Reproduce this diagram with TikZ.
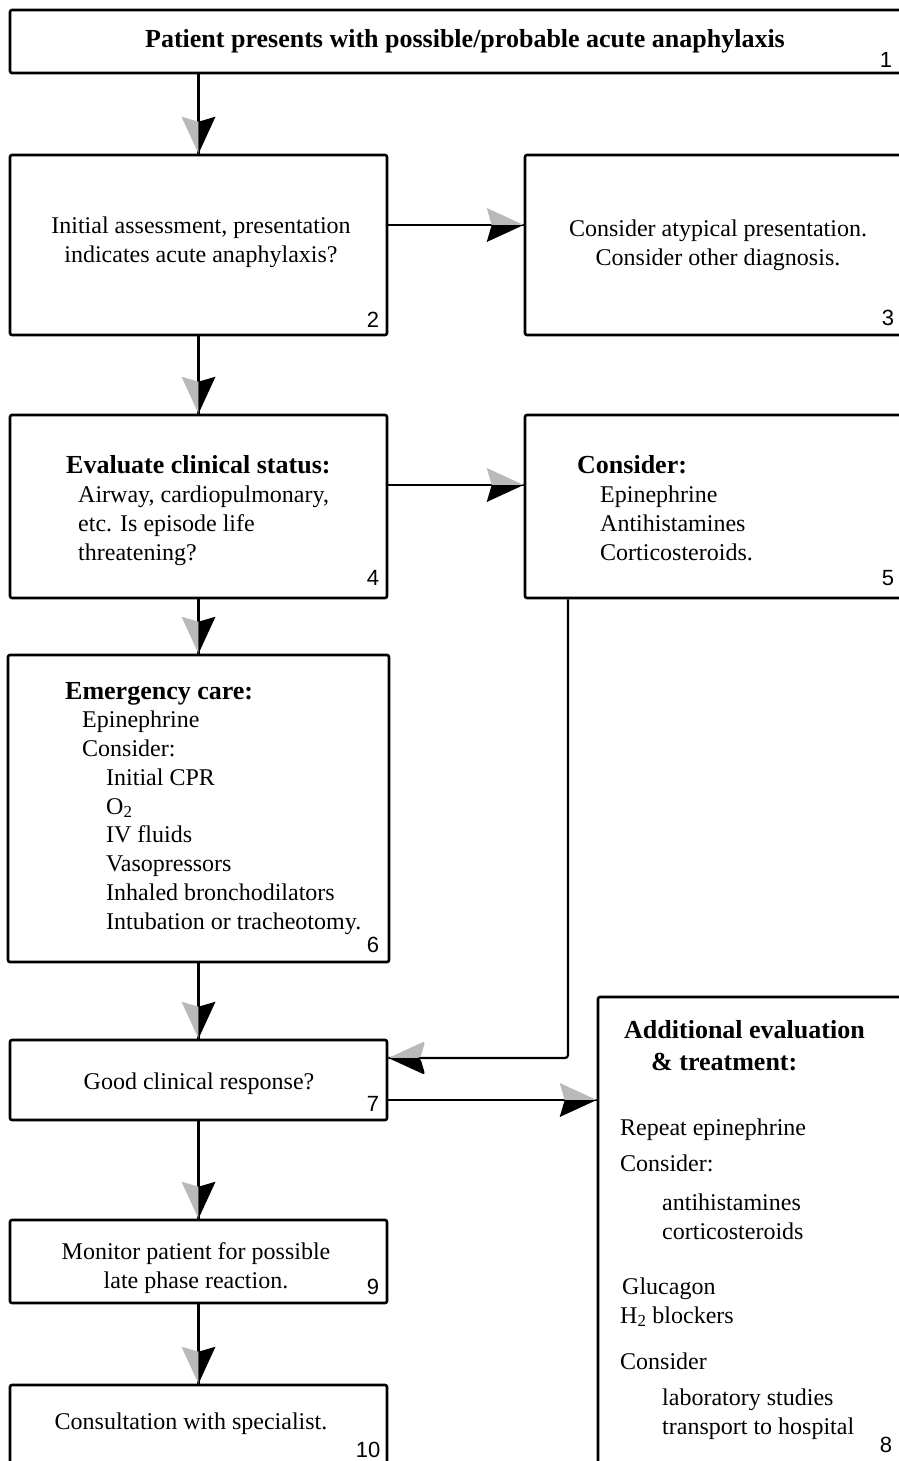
\documentclass[tikz,border=0pt]{standalone}
\usepackage{fontspec}
\setmainfont{Liberation Serif}
\newfontfamily\numfont{Liberation Sans}
\usetikzlibrary{decorations.markings}

% two-tone arrow head, #1 = side of the grey half
\newcommand\flowtip[1]{%
  \fill[gray!55] (0pt,0pt) -- (-37pt,{17pt*(#1)}) -- (-32pt,0pt) -- cycle;
  \fill[black] (0pt,0pt) -- (-37pt,{-17pt*(#1)}) -- (-32pt,0pt) -- cycle;}

\tikzset{
  box/.style={draw, line width=2.6pt, rounded corners=2pt, inner sep=0pt},
  txt/.style={inner sep=0pt, font=\fontsize{24}{29}\selectfont},
  num/.style={inner sep=0pt, font=\numfont\fontsize{22}{22}\selectfont},
  flow/.style={line width=2.2pt, postaction=decorate},
  flowdown/.style={flow, decoration={markings, mark=at position 1 with {\flowtip{-1}}}},
  flowright/.style={flow, decoration={markings, mark=at position 1 with {\flowtip{1}}}},
  flowleft/.style={flow, decoration={markings, mark=at position 1 with {\flowtip{-1}}}}
}
\newcommand\hd[1]{{\fontsize{26}{29}\selectfont\bfseries #1}}

\begin{document}
\begin{tikzpicture}[x=1pt, y=-1pt]
  \useasboundingbox (0,0) rectangle (899,1461);
  \fill[white] (0,0) rectangle (899,1461);
  \clip (0,0) rectangle (899,1461);

  % boxes
  \node[box, minimum width=900pt, minimum height=63pt] (b1) at (460,41.5) {};
  \node[box, minimum width=377pt, minimum height=180pt] (b2) at (198.5,245) {};
  \node[box, minimum width=380pt, minimum height=180pt] (b3) at (715,245) {};
  \node[box, minimum width=377pt, minimum height=183pt] (b4) at (198.5,506.5) {};
  \node[box, minimum width=380pt, minimum height=183pt] (b5) at (715,506.5) {};
  \node[box, minimum width=381pt, minimum height=307pt] (b6) at (198.5,808.5) {};
  \node[box, minimum width=377pt, minimum height=80pt] (b7) at (198.5,1080) {};
  \node[box, minimum width=307pt, minimum height=473pt] (b8) at (751.5,1233.5) {};
  \node[box, minimum width=377pt, minimum height=83pt] (b9) at (198.5,1261.5) {};
  \node[box, minimum width=377pt, minimum height=85pt] (b10) at (198.5,1427.5) {};

  % texts
  \node[txt, anchor=north] (t1) at (465,29.5) {\hd{Patient presents with possible/probable acute anaphylaxis}};
  \node[txt, anchor=north, align=center] (t2) at (201,217)
    {Initial assessment, presentation\\indicates acute anaphylaxis?};
  \node[txt, anchor=north, align=center] (t3) at (718,220)
    {Consider atypical presentation.\\Consider other diagnosis.};
  \node[txt, anchor=north west, align=left] (t4) at (66,455)
    {\hd{Evaluate clinical status:}\\
     \hspace*{12pt}Airway, cardiopulmonary,\\
     \hspace*{12pt}etc. Is episode life\\
     \hspace*{12pt}threatening?};
  \node[txt, anchor=north west, align=left] (t5) at (577,455)
    {\hd{Consider:}\\
     \hspace*{23pt}Epinephrine\\
     \hspace*{23pt}Antihistamines\\
     \hspace*{23pt}Corticosteroids.};
  \node[txt, anchor=north west, align=left, font=\fontsize{24}{28.75}\selectfont] (t6) at (65,682)
    {\hd{Emergency care:}\\
     \hspace*{17pt}Epinephrine\\
     \hspace*{17pt}Consider:\\
     \hspace*{41pt}Initial CPR\\
     \hspace*{41pt}O\textsubscript{2}\\
     \hspace*{41pt}IV fluids\\
     \hspace*{41pt}Vasopressors\\
     \hspace*{41pt}Inhaled bronchodilators\\
     \hspace*{41pt}Intubation or tracheotomy.};
  \node[txt, anchor=north] (t7) at (199,1073) {Good clinical response?};
  \node[txt, anchor=north west, align=left] (t8) at (620,1020)
    {\hspace*{4pt}\hd{Additional evaluation}\\[3pt]
     \hspace*{31pt}\hd{\& treatment:}\\[36pt]
     Repeat epinephrine\\[7pt]
     Consider:\\[10pt]
     \hspace*{42pt}antihistamines\\
     \hspace*{42pt}corticosteroids\\[26pt]
     \hspace*{2pt}Glucagon\\
     H\textsubscript{2} blockers\\[17pt]
     Consider\\[7pt]
     \hspace*{42pt}laboratory studies\\
     \hspace*{42pt}transport to hospital};
  \node[txt, anchor=north, align=center] (t9) at (196,1242)
    {Monitor patient for possible\\late phase reaction.};
  \node[txt, anchor=north] (t10) at (191,1413) {Consultation with specialist.};

  % box numbers
  \node[num] (n1) at (886,60) {1};
  \node[num] (n2) at (373,320) {2};
  \node[num] (n3) at (888,318) {3};
  \node[num] (n4) at (373,578) {4};
  \node[num] (n5) at (888,578) {5};
  \node[num] (n6) at (373,945) {6};
  \node[num] (n7) at (373,1104) {7};
  \node[num] (n8) at (886,1445) {8};
  \node[num] (n9) at (373,1287) {9};
  \node[num] (n10) at (368,1450) {10};

  % connectors
  \draw[flowdown] (b1.south -| b2.north) -- (b2.north);
  \draw[flowright] ([yshift=20pt]b2.east) -- ([yshift=20pt]b3.west);
  \draw[flowdown] (b2.south) -- (b4.north);
  \draw[flowright] ([yshift=21.5pt]b4.east) -- ([yshift=21.5pt]b5.west);
  \draw[flowdown] (b4.south) -- (b6.north);
  \draw[flowdown] (b6.south) -- (b7.north);
  \draw[flowleft, rounded corners=3pt] ([xshift=-147pt]b5.south) |- ([yshift=22pt]b7.east);
  \draw[flowright] ([yshift=-20pt]b7.east) -- ([yshift=133.5pt]b8.west);
  \draw[flowdown] (b7.south) -- (b9.north);
  \draw[flowdown] (b9.south) -- (b10.north);
\end{tikzpicture}
\end{document}
